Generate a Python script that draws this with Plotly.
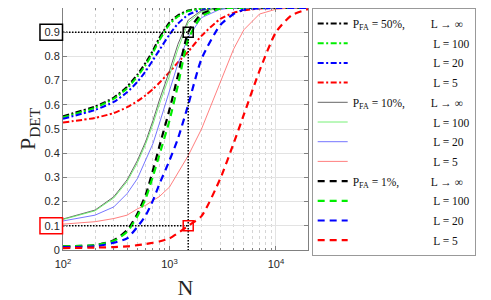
import math
import plotly.graph_objects as go

# ---------------- data ----------------
N = [100, 200, 300, 400, 500, 600, 700, 800, 1000, 1200, 1500, 2000, 3000,
     4000, 5000, 7000, 10000, 14000, 20000]

# P_FA = 50 %
pd50_inf = [0.553, 0.593, 0.630, 0.675, 0.725, 0.775, 0.825, 0.875, 0.940, 0.970, 0.990, 0.998, 1.0, 1.0, 1.0, 1.0, 1.0, 1.0, 1.0]
pd50_100 = [0.548, 0.588, 0.625, 0.668, 0.717, 0.766, 0.815, 0.865, 0.932, 0.965, 0.987, 0.997, 1.0, 1.0, 1.0, 1.0, 1.0, 1.0, 1.0]
pd50_20 = [0.542, 0.579, 0.612, 0.652, 0.695, 0.740, 0.785, 0.825, 0.890, 0.935, 0.972, 0.992, 0.999, 1.0, 1.0, 1.0, 1.0, 1.0, 1.0]
pd50_5 = [0.527, 0.546, 0.566, 0.590, 0.615, 0.640, 0.665, 0.690, 0.735, 0.775, 0.820, 0.885, 0.955, 0.980, 0.990, 0.998, 1.0, 1.0, 1.0]

# P_FA = 10 %
pd10_inf = [0.128, 0.165, 0.220, 0.290, 0.370, 0.450, 0.535, 0.617, 0.740, 0.850, 0.950, 0.990, 1.0, 1.0, 1.0, 1.0, 1.0, 1.0, 1.0]
pd10_100 = [0.126, 0.162, 0.215, 0.283, 0.360, 0.440, 0.520, 0.600, 0.720, 0.830, 0.940, 0.985, 0.999, 1.0, 1.0, 1.0, 1.0, 1.0, 1.0]
pd10_20 = [0.120, 0.144, 0.178, 0.233, 0.295, 0.370, 0.440, 0.520, 0.660, 0.770, 0.880, 0.960, 0.995, 1.0, 1.0, 1.0, 1.0, 1.0, 1.0]
pd10_5 = [0.107, 0.117, 0.130, 0.144, 0.170, 0.185, 0.205, 0.220, 0.260, 0.320, 0.390, 0.500, 0.690, 0.830, 0.910, 0.975, 0.995, 1.0, 1.0]

# P_FA = 1 %
pd1_inf = [0.015, 0.020, 0.040, 0.082, 0.150, 0.230, 0.330, 0.425, 0.580, 0.720, 0.900, 0.975, 0.999, 1.0, 1.0, 1.0, 1.0, 1.0, 1.0]
pd1_100 = [0.015, 0.020, 0.038, 0.075, 0.140, 0.215, 0.305, 0.390, 0.535, 0.680, 0.870, 0.965, 0.998, 1.0, 1.0, 1.0, 1.0, 1.0, 1.0]
pd1_20 = [0.012, 0.015, 0.030, 0.048, 0.096, 0.144, 0.205, 0.270, 0.370, 0.460, 0.600, 0.790, 0.930, 0.975, 0.993, 0.999, 1.0, 1.0, 1.0]
pd1_5 = [0.008, 0.010, 0.012, 0.015, 0.020, 0.025, 0.030, 0.035, 0.048, 0.070, 0.100, 0.140, 0.295, 0.440, 0.560, 0.740, 0.900, 0.970, 0.995]

N_mark = 1500
pd_hi = 0.9
pd_lo = 0.1
x_tickvals = [100, 1000, 10000]
x_ticktext = ["10<sup>2</sup>", "10<sup>3</sup>", "10<sup>4</sup>"]
x_minorvals = [200, 300, 400, 500, 600, 700, 800, 900,
               2000, 3000, 4000, 5000, 6000, 7000, 8000, 9000, 20000]
y_tickvals = [0, 0.1, 0.2, 0.3, 0.4, 0.5, 0.6, 0.7, 0.8, 0.9, 1.0]
y_ticktext = ["0", "0.1", "0.2", "0.3", "0.4", "0.5", "0.6", "0.7", "0.8", "0.9", "1"]

NB = "\u00a0"
pad = NB * 28
names = [
    "P<sub>FA</sub> = 50%," + NB * 9 + "L → ∞", pad + "L = 100", pad + "L = 20", pad + "L = 5",
    "P<sub>FA</sub> = 10%," + NB * 9 + "L → ∞", pad + "L = 100", pad + "L = 20", pad + "L = 5",
    "P<sub>FA</sub> = 1%," + NB * 11 + "L → ∞", pad + "L = 100", pad + "L = 20", pad + "L = 5",
]

series = [pd50_inf, pd50_100, pd50_20, pd50_5,
          pd10_inf, pd10_100, pd10_20, pd10_5,
          pd1_inf, pd1_100, pd1_20, pd1_5]

strong = ["#000000", "#00ee00", "#0000ff", "#ff0000"]
light = ["#555555", "#66ee66", "#6666ff", "#ff7070"]

fig = go.Figure()
for i, (ys, nm) in enumerate(zip(series, names)):
    grp = i // 4
    k = i % 4
    if grp == 0:
        line = dict(color=strong[k], width=2, dash="6px,2.5px,2px,2.5px", shape="spline", smoothing=0.6)
    elif grp == 1:
        line = dict(color=light[k], width=0.9)
    else:
        line = dict(color=strong[k], width=2.2, dash="7px,5px", shape="spline", smoothing=0.6)
    fig.add_trace(go.Scatter(x=N, y=ys, mode="lines", name=nm, line=line,
                             legendgroup="g%d" % i))

# dotted guide lines and marked points
fig.add_trace(go.Scatter(
    x=[N[0], N_mark, N_mark, None, N[0], N_mark],
    y=[pd_hi, pd_hi, 0, None, pd_lo, pd_lo],
    mode="lines", line=dict(color="black", width=1.5, dash="1.5px,1.5px"),
    showlegend=False, hoverinfo="skip", cliponaxis=False))
fig.add_trace(go.Scatter(
    x=[N_mark], y=[pd_hi], mode="markers", showlegend=False,
    marker=dict(symbol="square-open", size=10, color="black", line=dict(width=1.5, color="black"))))
fig.add_trace(go.Scatter(
    x=[N_mark], y=[pd_lo], mode="markers", showlegend=False,
    marker=dict(symbol="square-open", size=10, color="red", line=dict(width=1.5, color="red"))))

tickfont = dict(family="Liberation Sans, Arial, sans-serif", size=11, color="#262626")
serif = "Liberation Serif, Times New Roman, serif"

# page body has an 8px default margin: figure is sized to fit the 491x300 window
fig.update_layout(
    width=483, height=292,
    margin=dict(l=55, r=183, t=0, b=50),
    paper_bgcolor="white", plot_bgcolor="white",
    font=dict(family=serif, color="black"),
    showlegend=True,
    legend=dict(
        x=1.015, y=1.0, xanchor="left", yanchor="top",
        bgcolor="white", bordercolor="#999999", borderwidth=1,
        font=dict(family=serif, size=11.5, color="#111111"),
        itemwidth=30, maxheight=290,
        traceorder="grouped", tracegroupgap=0.7,
    ),
    xaxis=dict(
        type="log", range=[2, math.log10(20000)],
        tickvals=x_tickvals, ticktext=x_ticktext, tickfont=tickfont,
        ticklabelstandoff=4,
        showgrid=True, gridcolor="#e3e3e3", gridwidth=1,
        minor=dict(tickmode="array", tickvals=x_minorvals, showgrid=True,
                   gridcolor="#d5d5d5", griddash="dot",
                   ticks="inside", ticklen=2, tickcolor="#808080"),
        ticks="inside", ticklen=4, tickcolor="#808080",
        showline=True, linecolor="#808080", linewidth=1, mirror="allticks",
        zeroline=False,
        title=dict(text="N", font=dict(family=serif, size=22, color="#262626"), standoff=12),
    ),
    yaxis=dict(
        range=[0, 1], tickvals=y_tickvals, ticktext=y_ticktext, tickfont=tickfont,
        showgrid=True, gridcolor="#e3e3e3", gridwidth=1,
        ticks="inside", ticklen=4, tickcolor="#808080",
        showline=True, linecolor="#808080", linewidth=1, mirror="allticks",
        zeroline=False,
        title=dict(text="P<sub>DET</sub>", font=dict(family=serif, size=22, color="#262626"), standoff=2),
    ),
    shapes=[
        dict(type="rect", xref="paper", yref="y", x0=-0.094, x1=-0.002,
             y0=pd_hi - 0.033, y1=pd_hi + 0.033, line=dict(color="black", width=1.5)),
        dict(type="rect", xref="paper", yref="y", x0=-0.094, x1=-0.002,
             y0=pd_lo - 0.033, y1=pd_lo + 0.033, line=dict(color="red", width=1.5)),
    ],
    annotations=[
        dict(x=math.log10(N_mark), y=-0.012, xref="x", yref="y", text=str(N_mark),
             showarrow=True, ax=25, ay=15, arrowhead=2, arrowsize=0.8, arrowwidth=1,
             arrowcolor="black", font=tickfont),
    ],
)

fig.write_html("out.html")
